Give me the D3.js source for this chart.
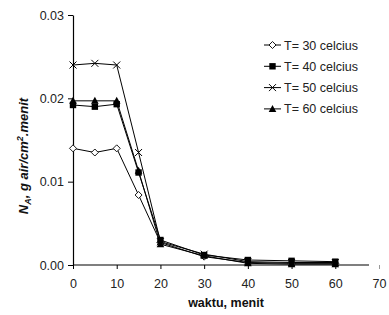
<!DOCTYPE html>
<html>
<head>
<meta charset="utf-8">
<script src="https://cdn.jsdelivr.net/npm/d3@7.9.0/dist/d3.min.js"></script>
<style>
  body { margin: 0; background: #fff; }
  svg { font-family: 'Liberation Sans', Arial, sans-serif; }
</style>
</head>
<body>
<svg id="chart" width="389" height="315"></svg>
<script>
const waktu = [0, 5, 10, 15, 20, 30, 40, 50, 60];

const t30 = [0.0140, 0.0135, 0.0140, 0.0084, 0.0027, 0.0010, 0.0003, 0.0002, 0.0002];
const t40 = [0.0192, 0.0190, 0.0193, 0.0111, 0.0030, 0.0012, 0.0006, 0.0005, 0.0004];
const t50 = [0.0240, 0.0242, 0.0240, 0.0135, 0.0028, 0.0013, 0.0004, 0.0003, 0.0003];
const t60 = [0.0197, 0.0197, 0.0197, 0.0113, 0.0025, 0.0011, 0.0002, 0.0001, 0.0001];

const seriesNames = ['T= 30 celcius', 'T= 40 celcius', 'T= 50 celcius', 'T= 60 celcius'];
const xTicks = [0, 10, 20, 30, 40, 50, 60, 70];
const yTicks = [0, 0.01, 0.02, 0.03];

const series = [
  { name: seriesNames[0], values: t30, marker: 'diamond' },
  { name: seriesNames[1], values: t40, marker: 'square' },
  { name: seriesNames[2], values: t50, marker: 'cross' },
  { name: seriesNames[3], values: t60, marker: 'triangle' },
];

const svg = d3.select('#chart');
const FONT = 'Liberation Sans, Arial, sans-serif';

const x = d3.scaleLinear().domain([0, 70]).range([73, 379]);
const y = d3.scaleLinear().domain([0, 0.03]).range([265, 15]);

// y axis
const yAxis = svg.append('g')
  .attr('transform', `translate(${x(0)},0)`)
  .call(d3.axisLeft(y).tickValues(yTicks).tickFormat(d3.format('.2f')).tickSize(5).tickSizeOuter(0));
yAxis.select('.domain').attr('stroke', '#000').attr('stroke-width', 1.2);
yAxis.selectAll('.tick line').attr('stroke', '#000');
yAxis.selectAll('.tick text').attr('font-size', 12.5).attr('fill', '#222').attr('x', -9)
  .style('font-family', FONT);

// x axis
const xAxis = svg.append('g')
  .attr('transform', `translate(0,${y(0)})`)
  .call(d3.axisBottom(x).tickValues(xTicks).tickSize(4).tickSizeOuter(0));
xAxis.select('.domain').remove();
xAxis.append('line')
  .attr('x1', x(0)).attr('x2', 369)
  .attr('stroke', '#000').attr('stroke-width', 1.2);
xAxis.selectAll('.tick line').attr('stroke', (d) => d === 70 ? '#999' : '#000');
xAxis.selectAll('.tick text').attr('font-size', 12.5).attr('fill', '#222').attr('y', 14)
  .style('font-family', FONT);

// axis titles
svg.append('text')
  .attr('x', x(35)).attr('y', 307)
  .attr('text-anchor', 'middle')
  .attr('font-size', 12.5).attr('font-weight', 'bold').attr('fill', '#111')
  .text('waktu, menit');

const yLabel = svg.append('text')
  .attr('transform', 'translate(28,156) rotate(-90)')
  .attr('text-anchor', 'middle')
  .attr('font-size', 13).attr('font-weight', 'bold').attr('font-style', 'italic').attr('fill', '#111');
yLabel.append('tspan').text('N');
yLabel.append('tspan').attr('font-size', 9).attr('dy', 3).text('A');
yLabel.append('tspan').attr('dy', -3).text(', g air/cm');
yLabel.append('tspan').attr('font-size', 9).attr('dy', -5).text('2');
yLabel.append('tspan').attr('dy', 5).text('.menit');

function drawMarker(g, type, cx, cy) {
  if (type === 'diamond') {
    g.append('path')
      .attr('d', `M${cx},${cy - 3.5}L${cx + 3.5},${cy}L${cx},${cy + 3.5}L${cx - 3.5},${cy}Z`)
      .attr('fill', '#fff').attr('stroke', '#000').attr('stroke-width', 0.9);
  } else if (type === 'square') {
    g.append('rect')
      .attr('x', cx - 3.2).attr('y', cy - 3.2).attr('width', 6.4).attr('height', 6.4)
      .attr('fill', '#000');
  } else if (type === 'cross') {
    g.append('path')
      .attr('d', `M${cx - 3.5},${cy - 3.5}L${cx + 3.5},${cy + 3.5}M${cx - 3.5},${cy + 3.5}L${cx + 3.5},${cy - 3.5}`)
      .attr('stroke', '#000').attr('stroke-width', 1);
  } else if (type === 'triangle') {
    g.append('path')
      .attr('d', `M${cx},${cy - 4}L${cx + 3.8},${cy + 3}L${cx - 3.8},${cy + 3}Z`)
      .attr('fill', '#000');
  }
}

const line = d3.line()
  .x((d, i) => x(waktu[i]))
  .y((d) => y(d));

const plot = svg.append('g');
series.forEach((s) => {
  plot.append('path')
    .attr('d', line(s.values))
    .attr('fill', 'none')
    .attr('stroke', '#000')
    .attr('stroke-width', 1);
});
series.forEach((s) => {
  const g = plot.append('g');
  s.values.forEach((v, i) => drawMarker(g, s.marker, x(waktu[i]), y(v)));
});

// legend
const legend = svg.append('g');
series.forEach((s, i) => {
  const ly = 45 + i * 21.3;
  const g = legend.append('g');
  g.append('line')
    .attr('x1', 264).attr('x2', 281).attr('y1', ly).attr('y2', ly)
    .attr('stroke', '#000').attr('stroke-width', 1);
  drawMarker(g, s.marker, 272.5, ly);
  g.append('text')
    .attr('x', 284).attr('y', ly + 4.5)
    .attr('font-size', 12.5).attr('fill', '#222')
    .text(s.name);
});
</script>
</body>
</html>
